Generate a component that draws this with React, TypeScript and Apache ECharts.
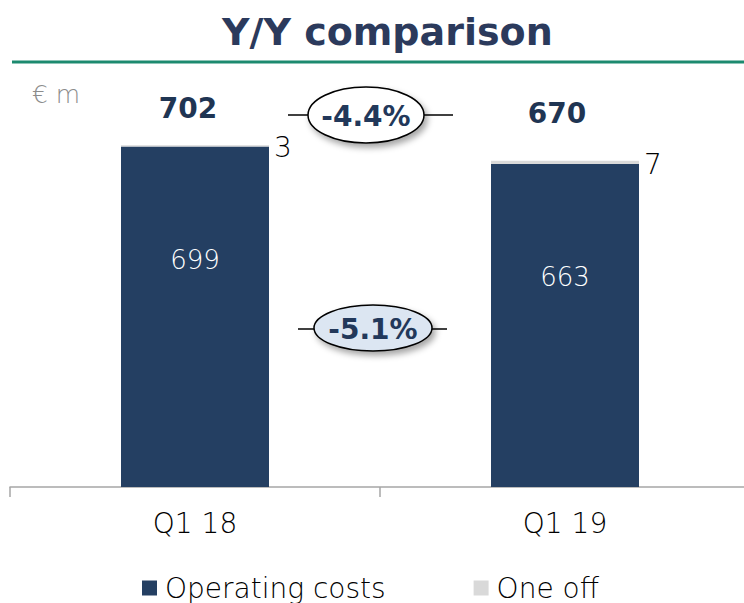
import React, { useEffect, useRef } from "react";
import * as echarts from "echarts";

const categories = ["Q1 18", "Q1 19"];
const operatingCosts = [699, 663];
const oneOff = [3, 7];
const totals = [702, 670];
const changeLabels = ["-4.4%", "-5.1%"];
const seriesNames = ["Operating costs", "One off"];
const unitLabel = "€ m";
const titleText = "Y/Y comparison";

const NAVY = "#243f62";
const TITLE_NAVY = "#2b3a5c";
const GREY = "#d9d9d9";
const FONT = "'DejaVu Sans', sans-serif";

export default function App() {
  const ref = useRef<HTMLDivElement>(null);

  useEffect(() => {
    if (!ref.current) return;
    const chart = echarts.init(ref.current, null, { renderer: "svg" });
    const totalOffsets = [
      [-7, -37],
      [-8, -47],
    ];
    const option: any = {
      animation: false,
      backgroundColor: "#ffffff",
      title: {
        text: titleText,
        left: 217,
        top: 8,
        textStyle: {
          fontFamily: FONT,
          fontWeight: "bold",
          fontSize: 38,
          color: TITLE_NAVY,
        },
      },
      legend: {
        data: seriesNames,
        left: 137,
        top: 569,
        icon: "rect",
        itemWidth: 15,
        itemHeight: 15,
        itemGap: 88,
        selectedMode: false,
        textStyle: {
          fontFamily: FONT,
          fontSize: 28,
          fontWeight: 300,
          color: "#000",
          padding: [0, 0, 0, 3],
        },
      },
      grid: { left: 10, top: 0, right: 0, bottom: 116, containLabel: false },
      xAxis: {
        type: "category",
        data: categories,
        axisLine: { lineStyle: { color: "#a6a6a6", width: 1.5 } },
        axisTick: { show: true, length: 10, lineStyle: { color: "#a6a6a6", width: 1.5 } },
        axisLabel: {
          margin: 22,
          fontFamily: FONT,
          fontSize: 28,
          fontWeight: 300,
          color: "#000",
        },
      },
      yAxis: {
        type: "value",
        min: 0,
        max: 1000,
        show: false,
        splitLine: { show: false },
      },
      series: [
        {
          name: seriesNames[0],
          type: "bar",
          stack: "total",
          barWidth: 148,
          data: operatingCosts,
          itemStyle: { color: NAVY },
          label: {
            show: true,
            position: "insideTop",
            distance: 100,
            color: "#ffffff",
            fontFamily: FONT,
            fontSize: 26,
            fontWeight: 300,
          },
        },
        {
          name: seriesNames[1],
          type: "bar",
          stack: "total",
          barWidth: 148,
          data: oneOff,
          itemStyle: { color: GREY },
          label: {
            show: true,
            position: "right",
            distance: 5,
            offset: [0, 2],
            color: "#000",
            fontFamily: FONT,
            fontSize: 28,
            fontWeight: 300,
          },
        },
        {
          name: "Total",
          type: "scatter",
          symbolSize: 0,
          itemStyle: { opacity: 1 },
          data: totals.map((v, i) => ({
            value: v,
            label: { offset: totalOffsets[i] },
          })),
          label: {
            show: true,
            position: "inside",
            formatter: "{c}",
            color: "#1f3553",
            fontFamily: FONT,
            fontWeight: "bold",
            fontSize: 28,
          },
          z: 5,
        },
      ],
      graphic: [
        {
          type: "line",
          shape: { x1: 12, y1: 62, x2: 750, y2: 62 },
          style: { stroke: "#1c8a6f", lineWidth: 3 },
        },
        {
          type: "text",
          left: 32,
          top: 82,
          style: {
            text: unitLabel,
            fontFamily: FONT,
            fontSize: 25,
            fontWeight: 300,
            fill: "#8c8c8c",
          },
        },
        {
          type: "line",
          shape: { x1: 288, y1: 115, x2: 453, y2: 115 },
          style: { stroke: "#000", lineWidth: 1.5 },
          z: 10,
        },
        {
          type: "ellipse",
          shape: { cx: 366, cy: 115, rx: 58, ry: 28 },
          style: {
            fill: "#ffffff",
            stroke: "#000",
            lineWidth: 1.5,
            shadowBlur: 6,
            shadowOffsetX: 3,
            shadowOffsetY: 4,
            shadowColor: "rgba(0,0,0,0.35)",
          },
          z: 11,
        },
        {
          type: "text",
          x: 366,
          y: 116,
          style: {
            text: changeLabels[0],
            textAlign: "center",
            textVerticalAlign: "middle",
            fontFamily: FONT,
            fontWeight: "bold",
            fontSize: 28,
            fill: "#22385a",
          },
          z: 12,
        },
        {
          type: "line",
          shape: { x1: 298, y1: 329, x2: 447, y2: 329 },
          style: { stroke: "#000", lineWidth: 1.5 },
          z: 10,
        },
        {
          type: "ellipse",
          shape: { cx: 373, cy: 328, rx: 59, ry: 23 },
          style: {
            fill: "#dce6f2",
            stroke: "#000",
            lineWidth: 1.5,
            shadowBlur: 6,
            shadowOffsetX: 3,
            shadowOffsetY: 4,
            shadowColor: "rgba(0,0,0,0.35)",
          },
          z: 11,
        },
        {
          type: "text",
          x: 373,
          y: 329,
          style: {
            text: changeLabels[1],
            textAlign: "center",
            textVerticalAlign: "middle",
            fontFamily: FONT,
            fontWeight: "bold",
            fontSize: 28,
            fill: "#22385a",
          },
          z: 12,
        },
      ],
    };
    chart.setOption(option);
    return () => chart.dispose();
  }, []);

  return (
    <div
      ref={ref}
      style={{ position: "fixed", left: 0, top: 0, width: 750, height: 603 }}
    />
  );
}
